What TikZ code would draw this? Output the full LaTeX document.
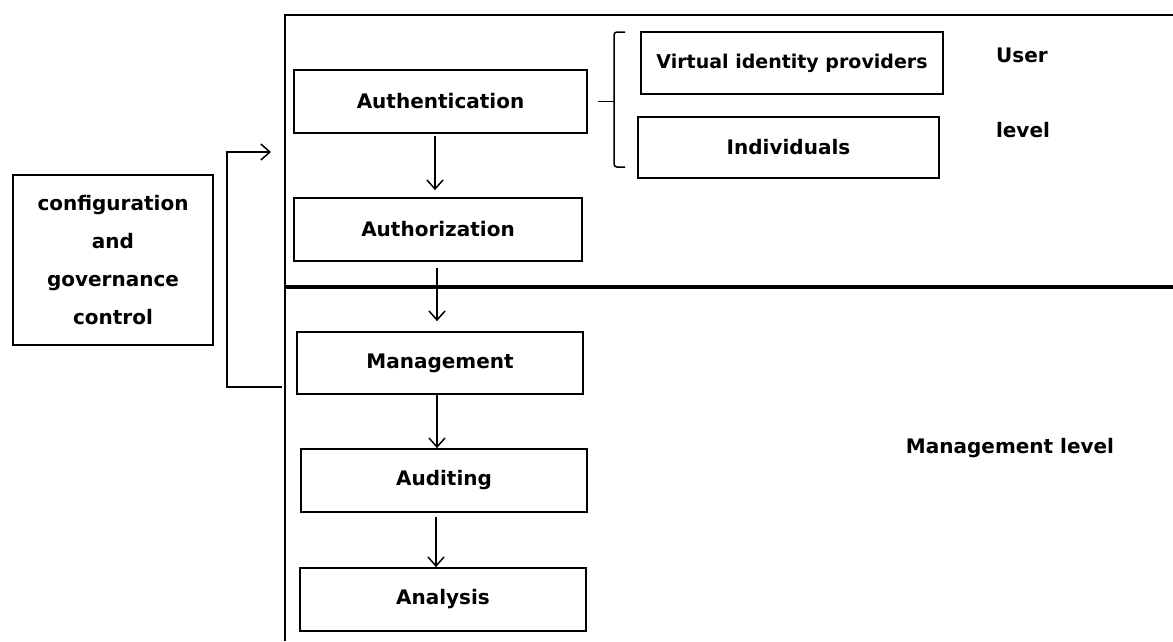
\documentclass[tikz,border=0pt]{standalone}
\usepackage{fontspec}
\setmainfont{DejaVu Sans}
\usetikzlibrary{arrows.meta}
\begin{document}
\begin{tikzpicture}[x=1pt,y=-1pt,
  every node/.style={font=\fontsize{20}{38}\selectfont\bfseries},
  box/.style={draw,line width=1.8pt,inner sep=0pt},
  arr/.style={line width=1.5pt,-{Straight Barb[length=9pt,width=16pt,line width=1.5pt]}},
  conn/.style={line width=1.5pt}]
\useasboundingbox (0,0) rectangle (1173,641);
% frame
\draw[line width=2pt] (1173,15) -- (285,15) -- (285,641);
\draw[line width=4pt] (285,287) -- (1173,287);
% boxes
\node[box,minimum width=293pt,minimum height=63pt] (auth) at (440.5,101.5) {Authentication};
\node[box,minimum width=288pt,minimum height=63pt] (authz) at (438,229.5) {Authorization};
\node[box,minimum width=286pt,minimum height=62pt] (mgmt) at (440,363) {Management};
\node[box,minimum width=286pt,minimum height=63pt] (audit) at (444,480.5) {Auditing};
\node[box,minimum width=286pt,minimum height=63pt] (anal) at (443,599.5) {Analysis};
\node[box,minimum width=302pt,minimum height=62pt,font=\fontsize{19}{38}\selectfont\bfseries] (vip) at (792,63) {Virtual identity providers};
\node[box,minimum width=301pt,minimum height=61pt] (ind) at (788.5,147.5) {Individuals};
\node[box,minimum width=200pt,minimum height=170pt,align=center] (conf) at (113,260) {configuration\\and\\governance\\control};
% labels
\node (user) at (1022,55) {User};
\node (lvl) at (1023,130) {level};
\node (mlvl) at (1010,448) {Management level};
% arrows
\draw[arr,shorten <=2pt,shorten >=7pt] (435,0 |- auth.south) -- (435,0 |- authz.north);
\draw[arr,shorten <=6pt,shorten >=10pt] (437,0 |- authz.south) -- (437,0 |- mgmt.north);
\draw[arr] (437,0 |- mgmt.south) -- (437,0 |- audit.north);
\draw[arr,shorten <=4pt] (436,0 |- audit.south) -- (436,0 |- anal.north);
% feedback
\coordinate (fbs) at (282,387);
\coordinate (fbe) at (271,152);
\draw[arr] (fbs) -- (227,387) -- (227,152) -- (fbe);
% bracket
\draw[conn,shorten <=10pt] (auth.east) -- (614,0 |- auth.east);
\draw[conn,rounded corners=3pt] (625,32) -- (614,32) -- (614,167) -- (625,167);
\end{tikzpicture}
\end{document}
